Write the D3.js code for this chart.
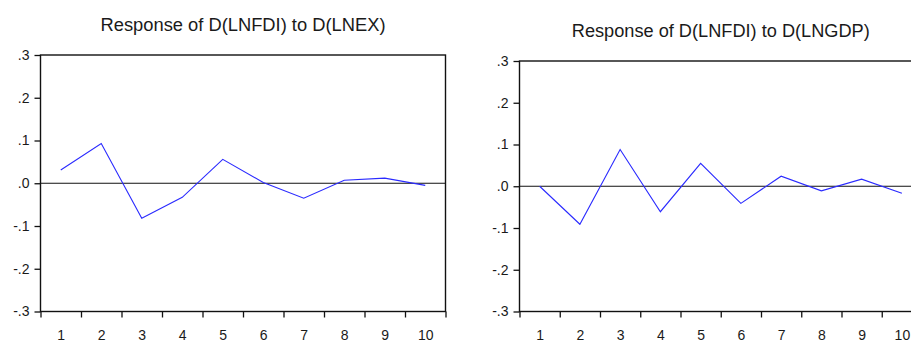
<!DOCTYPE html>
<html>
<head>
<meta charset="utf-8">
<script src="https://cdn.jsdelivr.net/npm/d3@7"></script>
<style>
  html, body { margin: 0; padding: 0; background: #fff; }
  svg { display: block; }
  text { font-family: "Liberation Sans", Arial, sans-serif; fill: #1a1a1a; }
</style>
</head>
<body>
<svg id="chart" width="911" height="342"></svg>
<script>
const periods = [1, 2, 3, 4, 5, 6, 7, 8, 9, 10];
const yTicks = [-0.3, -0.2, -0.1, 0, 0.1, 0.2, 0.3];
const yTickLabels = ["-.3", "-.2", "-.1", ".0", ".1", ".2", ".3"];
const titleLNEX = "Response of D(LNFDI) to D(LNEX)";
const titleLNGDP = "Response of D(LNFDI) to D(LNGDP)";
const responseLNEX = [0.031, 0.093, -0.082, -0.033, 0.056, 0.002, -0.035, 0.007, 0.012, -0.005];
const responseLNGDP = [0.000, -0.091, 0.088, -0.061, 0.055, -0.041, 0.024, -0.011, 0.017, -0.017];

const panels = [
  { title: titleLNEX, values: responseLNEX, left: 40.5, right: 445.5, top: 55, bottom: 311.5, titleY: 31, titleLen: 285 },
  { title: titleLNGDP, values: responseLNGDP, left: 519.5, right: 922, top: 61, bottom: 311.5, titleY: 36.5, titleLen: 298 }
];

const svg = d3.select("#chart");

panels.forEach(p => {
  const g = svg.append("g");
  const x = d3.scaleLinear().domain([0.5, 10.5]).range([p.left, p.right]);
  const y = d3.scaleLinear().domain([-0.3, 0.3]).range([p.bottom, p.top]);

  // title
  g.append("text")
    .attr("x", (p.left + p.right) / 2)
    .attr("y", p.titleY)
    .attr("text-anchor", "middle")
    .attr("font-size", 17.5)
    .attr("textLength", p.titleLen)
    .attr("lengthAdjust", "spacingAndGlyphs")
    .text(p.title);

  // y axis
  const yAxis = d3.axisLeft(y)
    .tickValues(yTicks)
    .tickSize(6)
    .tickPadding(5)
    .tickFormat((d, i) => yTickLabels[i]);
  const ya = g.append("g").attr("transform", `translate(${p.left},0)`).call(yAxis);
  ya.select(".domain").remove();
  ya.selectAll("line").attr("stroke", "#111").attr("stroke-width", 1.3);
  ya.selectAll("text").attr("font-size", 14).attr("fill", "#1a1a1a").attr("font-family", "Liberation Sans, Arial, sans-serif");

  // x axis boundary ticks
  const bounds = d3.range(0.5, 11, 1);
  const xTickAxis = d3.axisBottom(x).tickValues(bounds).tickSize(6).tickFormat("");
  const xt = g.append("g").attr("transform", `translate(0,${p.bottom})`).call(xTickAxis);
  xt.select(".domain").remove();
  xt.selectAll("line").attr("stroke", "#111").attr("stroke-width", 1.3);

  // x labels
  const xLabelAxis = d3.axisBottom(x).tickValues(periods).tickSize(0).tickPadding(19).tickFormat(d3.format("d"));
  const xl = g.append("g").attr("transform", `translate(0,${p.bottom})`).call(xLabelAxis);
  xl.select(".domain").remove();
  xl.selectAll("text").attr("font-size", 14).attr("fill", "#1a1a1a").attr("font-family", "Liberation Sans, Arial, sans-serif");

  // zero line
  g.append("line")
    .attr("x1", p.left).attr("x2", p.right)
    .attr("y1", y(0)).attr("y2", y(0))
    .attr("stroke", "#111").attr("stroke-width", 1.1);

  // response line
  const line = d3.line().x((d, i) => x(periods[i])).y(d => y(d));
  g.append("path")
    .datum(p.values)
    .attr("d", line)
    .attr("fill", "none")
    .attr("stroke", "#2a2aff")
    .attr("stroke-width", 1.1);

  // frame
  g.append("rect")
    .attr("x", p.left).attr("y", p.top)
    .attr("width", p.right - p.left).attr("height", p.bottom - p.top)
    .attr("fill", "none").attr("stroke", "#111").attr("stroke-width", 1.4);
});
</script>
</body>
</html>
